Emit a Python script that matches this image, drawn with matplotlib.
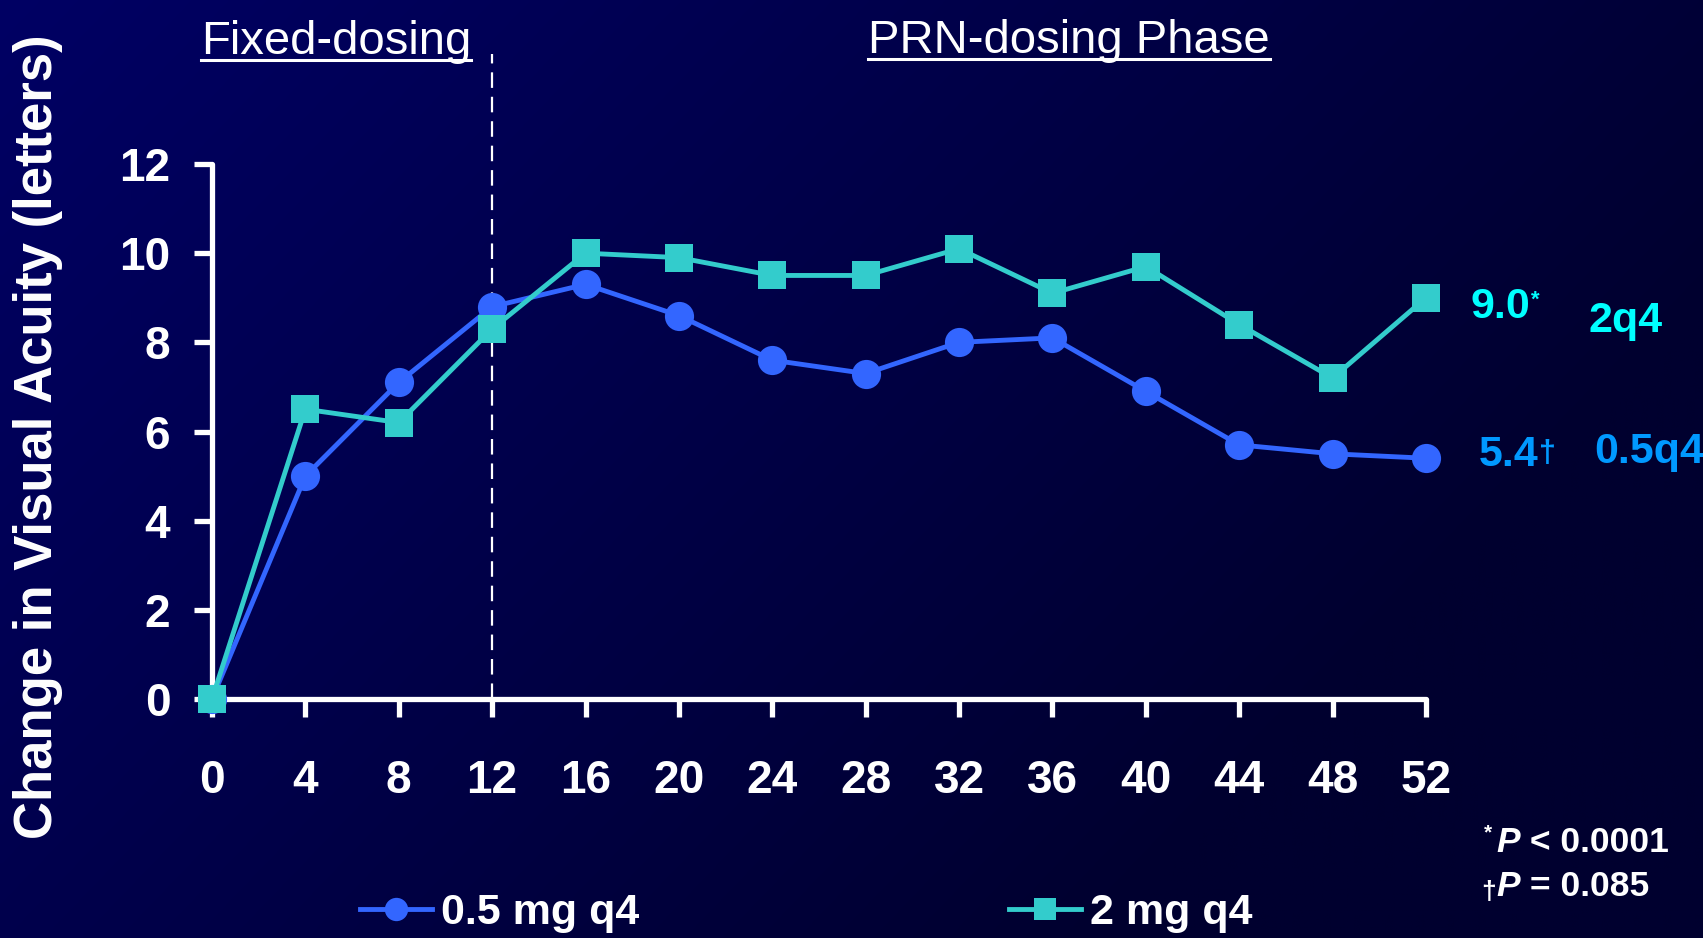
import numpy as np
import matplotlib
matplotlib.use("Agg")
import matplotlib.pyplot as plt
from matplotlib.lines import Line2D

# ---------------- data ----------------
weeks = [0, 4, 8, 12, 16, 20, 24, 28, 32, 36, 40, 44, 48, 52]
dose_05 = [0.0, 5.0, 7.1, 8.8, 9.3, 8.6, 7.6, 7.3, 8.0, 8.1, 6.9, 5.7, 5.5, 5.4]
dose_2 = [0.0, 6.5, 6.2, 8.3, 10.0, 9.9, 9.5, 9.5, 10.1, 9.1, 9.7, 8.4, 7.2, 9.0]
series_labels = ["0.5 mg q4", "2 mg q4"]
y_ticks = [0, 2, 4, 6, 8, 10, 12]
phase_labels = ["Fixed-dosing", "PRN-dosing Phase"]
ylabel = "Change in Visual Acuity (letters)"

# ---------------- style ----------------
W, H = 1703, 938
DPI = 100
BLUE = "#3366ff"
TEAL = "#33cccc"
CYAN = "#00ffff"
SKY = "#0099ff"
WHITE = "white"

plt.rcParams["font.family"] = ["Liberation Sans", "DejaVu Sans"]

fig = plt.figure(figsize=(W / DPI, H / DPI), dpi=DPI)


def px(x, y):
    return (x / W, 1 - y / H)


# background gradient
bg = fig.add_axes([0, 0, 1, 1], zorder=-10)
gx = np.linspace(0, 1, 400)[None, :]
gy = np.linspace(0, 1, 220)[:, None]
t = np.clip(0.85 * gx + 0.45 * gy, 0, 1)
blue_ch = (0x64 - (0x64 - 0x2f) * t) / 255.0
img = np.zeros((220, 400, 3))
img[..., 2] = blue_ch
bg.imshow(img, aspect="auto", extent=[0, 1, 0, 1], interpolation="bilinear")
bg.set_axis_off()

# main axes
ax = fig.add_axes([212 / W, 1 - 699 / H, 1214 / W, 535 / H])
ax.set_facecolor("none")

l1, = ax.plot(weeks, dose_05, color=BLUE, lw=3.5, marker="o", markersize=21,
              markeredgewidth=0, clip_on=False, zorder=3, label=series_labels[0])
l2, = ax.plot(weeks, dose_2, color=TEAL, lw=3.5, marker="s", markersize=20,
              markeredgewidth=0, clip_on=False, zorder=4, label=series_labels[1])

ax.set_xlim(0, 52)
ax.set_ylim(0, 12)
ax.set_xticks(weeks)
ax.set_yticks(y_ticks)
for s in ["top", "right"]:
    ax.spines[s].set_visible(False)
for s in ["left", "bottom"]:
    ax.spines[s].set_color(WHITE)
    ax.spines[s].set_linewidth(3.8)
    ax.spines[s].set_capstyle("round")
ax.tick_params(axis="both", colors=WHITE, length=13, width=3.8, labelsize=33)
ax.tick_params(axis="x", pad=30)
ax.tick_params(axis="y", pad=17)
for lab in ax.get_xticklabels() + ax.get_yticklabels():
    lab.set_fontweight("bold")

ax.set_ylabel(ylabel, fontsize=38, fontweight="bold", color=WHITE)
ax.yaxis.label.set_va("center")
ax.yaxis.set_label_coords((38 - 212) / 1214, (699 - 437) / 535)

# dashed separator at week 12
ax.axvline(12, ymin=0, ymax=(699 - 54) / 535, color=WHITE, lw=1.6,
           dashes=(7, 4), clip_on=False, zorder=2)

# phase titles (underlined)
t1 = fig.text(*px(336, 54), phase_labels[0], ha="center", va="baseline",
              fontsize=34, color=WHITE)
t2 = fig.text(*px(1069, 53), phase_labels[1], ha="center", va="baseline",
              fontsize=34, color=WHITE)

# end-point annotations
a1 = fig.text(*px(1471, 318), "9.0", ha="left", va="baseline", fontsize=31,
              fontweight="bold", color=CYAN)
ax.annotate("*", xy=(1.0, 0.92), xycoords=a1, ha="left", va="top",
            fontsize=16, fontweight="bold", color=CYAN)
fig.text(*px(1589, 332), "2q4", ha="left", va="baseline", fontsize=31,
         fontweight="bold", color=CYAN)
a2 = fig.text(*px(1479, 466), "5.4", ha="left", va="baseline", fontsize=31,
              fontweight="bold", color=SKY)
ax.annotate("\u2020", xy=(1.0, 0.9), xycoords=a2, ha="left", va="top",
            fontsize=22, fontweight="bold", color=SKY)
fig.text(*px(1594, 463), "0.5q4", ha="left", va="baseline", fontsize=31,
         fontweight="bold", color=SKY)

# footnotes
fig.text(*px(1484, 838), "*", ha="left", va="baseline", fontsize=15,
         fontweight="bold", color=WHITE)
p1 = fig.text(*px(1496, 852), "P", ha="left", va="baseline", fontsize=25.5,
              fontweight="bold", fontstyle="italic", color=WHITE)
ax.annotate(" < 0.0001", xy=(1, 0), xycoords=p1, ha="left", va="bottom",
            fontsize=25.5, fontweight="bold", color=WHITE)
fig.text(*px(1481, 899), "\u2020", ha="left", va="baseline", fontsize=19,
         fontweight="bold", color=WHITE)
p2 = fig.text(*px(1496, 896), "P", ha="left", va="baseline", fontsize=25.5,
              fontweight="bold", fontstyle="italic", color=WHITE)
ax.annotate(" = 0.085", xy=(1, 0), xycoords=p2, ha="left", va="bottom",
            fontsize=25.5, fontweight="bold", color=WHITE)

# legend
leg = fig.legend(handles=[l1, l2], labels=series_labels, loc="center left",
                 bbox_to_anchor=px(360, 913), ncol=2, frameon=False,
                 handlelength=1.67, handletextpad=0.2, columnspacing=8.6,
                 borderpad=0, borderaxespad=0, markerscale=0.8,
                 prop={"size": 31, "weight": "bold"})
for txt in leg.get_texts():
    txt.set_color(WHITE)

# underlines below the phase titles
renderer = fig.canvas.get_renderer()
for tt, yline in [(t1, 60), (t2, 59)]:
    bb = tt.get_window_extent(renderer=renderer)
    x0, x1 = bb.x0 / W, bb.x1 / W
    fig.add_artist(Line2D([x0, x1], [1 - yline / H, 1 - yline / H],
                          transform=fig.transFigure, color=WHITE, lw=2.2))

fig.savefig("out.png", dpi=DPI)
